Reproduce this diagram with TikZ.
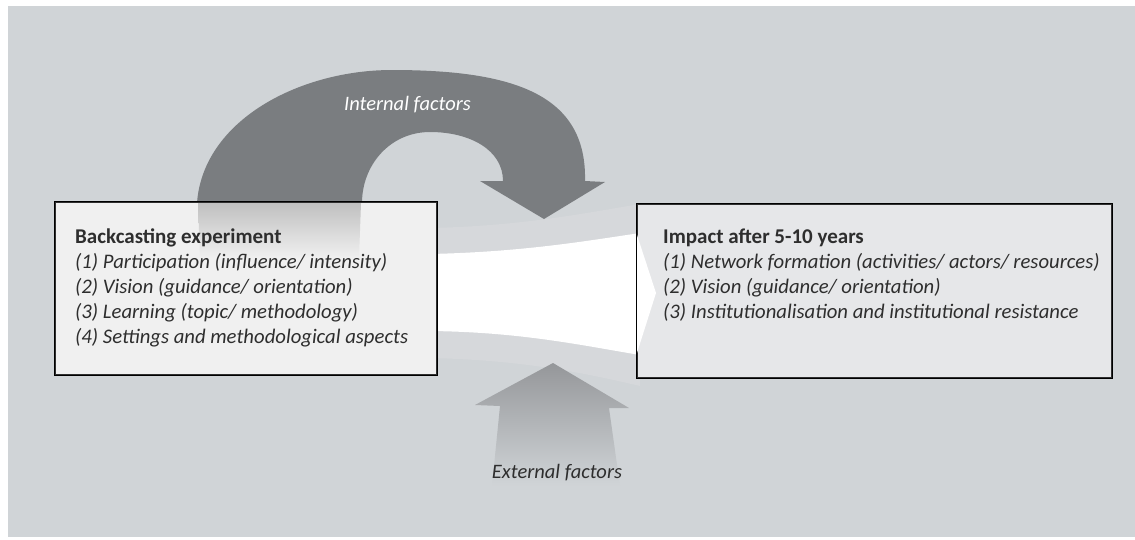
\documentclass[tikz,border=0pt]{standalone}
\usepackage{fontspec}
\setmainfont{Carlito}
\definecolor{bggray}{HTML}{D0D4D7}
\definecolor{lensgray}{HTML}{D6D8DB}
\definecolor{arrowdark}{HTML}{7A7D80}
\definecolor{exttop}{HTML}{95979A}
\definecolor{extmid}{HTML}{B0B2B4}
\definecolor{leftfill}{HTML}{F0F0F0}
\definecolor{rightfill}{HTML}{E6E7E9}
\definecolor{boxline}{HTML}{2F2F2F}
\definecolor{txt}{HTML}{2E2E2E}
\tikzset{
  boxstyle/.style={draw=boxline, line width=1.3pt, inner sep=0pt},
  boxtitle/.style={anchor=base west, inner sep=0pt, text=txt, font=\fontsize{21}{25}\selectfont\bfseries},
  boxline/.style={anchor=base west, inner sep=0pt, text=txt, font=\fontsize{20.7}{25}\selectfont\itshape},
  arrowlabel/.style={anchor=base, inner sep=0pt, font=\fontsize{20.5}{25}\selectfont\itshape}
}
\begin{document}
\begin{tikzpicture}[x=1pt,y=-1pt]
\useasboundingbox (0,0) rectangle (1135,539);
% background
\fill[white] (0,0) rectangle (1135,539);
\fill[bggray] (8,6) rectangle (1135,537);
% lighter lens between the boxes
\fill[lensgray] (430,228) .. controls (520,226) and (580,214) .. (640,204)
  -- (640,386) .. controls (580,372) and (520,360) .. (430,358) -- cycle;
% white funnel
\fill[white] (430,254) .. controls (520,252) and (580,242) .. (640,233)
  -- (640,355) .. controls (580,345) and (520,332) .. (430,331) -- cycle;
% internal factors arrow
\fill[arrowdark] (197,203) .. controls (203,120) and (300,70) .. (392,70)
  .. controls (515,70) and (587,95) .. (585,181)
  -- (605,182) -- (544,219) -- (480,181) -- (503,181)
  .. controls (503,150) and (470,132) .. (430,132)
  .. controls (390,132) and (362,165) .. (362,203) -- cycle;
% external factors arrow
\shade[top color=exttop, middle color=extmid, bottom color=bggray]
  (492,486) -- (500,406) -- (475,405) -- (553,363) -- (629,408) -- (609,408) -- (620,486) -- cycle;
% left box
\node[boxstyle, fill=leftfill, minimum width=382pt, minimum height=173pt] (back) at (246,288.5) {};
\shade[top color=black!20!leftfill, bottom color=leftfill]
  (198,203.2) -- (361,203.2) -- (359,258) -- (200,258) -- cycle;
\draw[boxline, line width=1.3pt] (back.north west) rectangle (back.south east);
% right box
\node[boxstyle, fill=rightfill, minimum width=475pt, minimum height=174pt] (impact) at (874.5,291) {};
\fill[white] (impact.west |- 0,233) -- (656,293) -- (impact.west |- 0,355) -- cycle;
\draw[boxline, line width=1.3pt] (impact.north west) rectangle (impact.south east);
% texts left
\node[boxtitle] (bt) at (75,243) {Backcasting experiment};
\node[boxline] (b1) at (75,268) {(1) Participation (influence/ intensity)};
\node[boxline] (b2) at (75,293) {(2) Vision (guidance/ orientation)};
\node[boxline] (b3) at (75,318) {(3) Learning (topic/ methodology)};
\node[boxline] (b4) at (75,343) {(4) Settings and methodological aspects};
% texts right
\node[boxtitle] (it) at (663,243) {Impact after 5-10 years};
\node[boxline] (i1) at (663,268) {(1) Network formation (activities/ actors/ resources)};
\node[boxline] (i2) at (663,293) {(2) Vision (guidance/ orientation)};
\node[boxline] (i3) at (663,318) {(3) Institutionalisation and institutional resistance};
% arrow labels
\node[arrowlabel, text=white] (intl) at (407.5,110) {Internal factors};
\node[arrowlabel, text=txt] (extl) at (557,478) {External factors};
\end{tikzpicture}
\end{document}
